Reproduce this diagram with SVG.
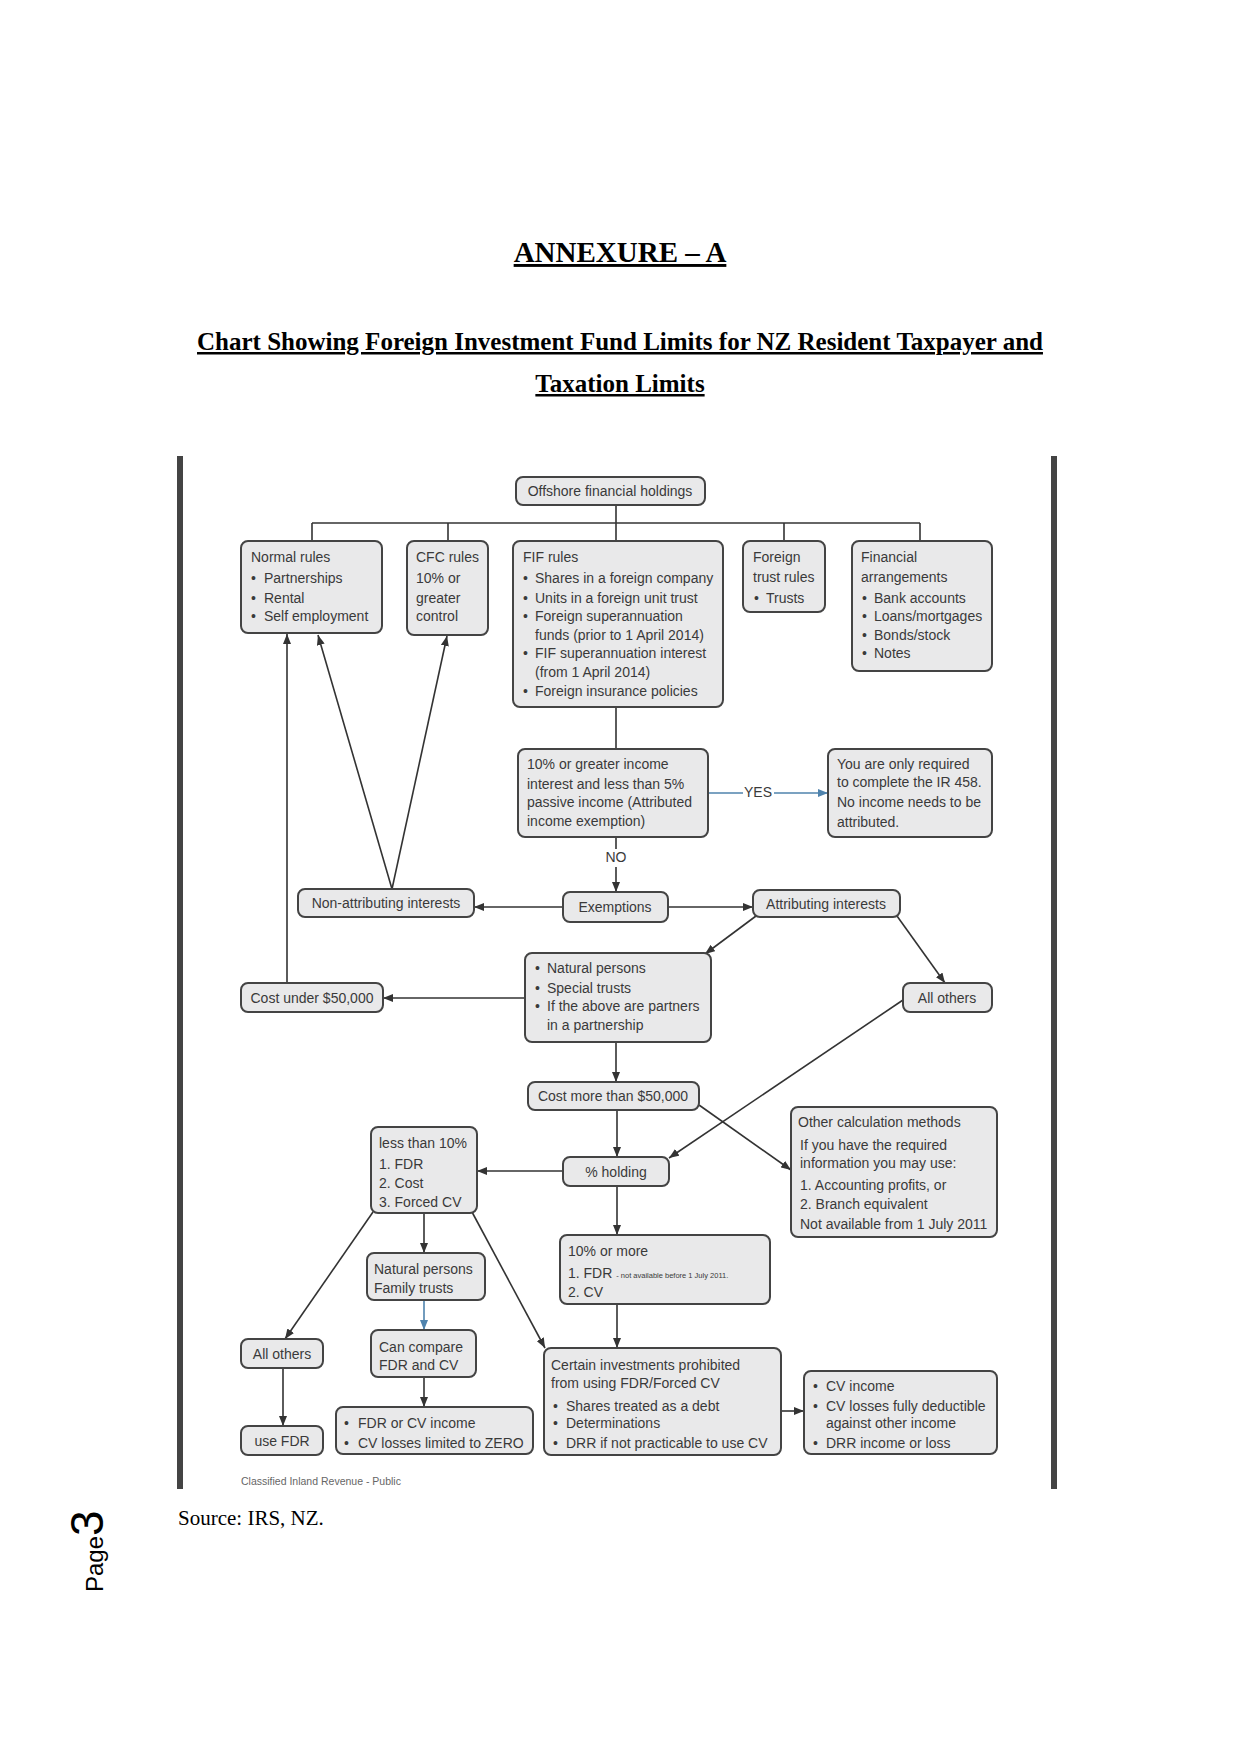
<svg xmlns="http://www.w3.org/2000/svg" width="1241" height="1754" viewBox="0 0 1241 1754">
<style>
.bx{fill:#e9e9ea;stroke:#444;stroke-width:2}
.t{font-family:"Liberation Sans",Arial,sans-serif;font-size:14px;fill:#3a3a3a}
.c{text-anchor:middle}
.ln{stroke:#333;stroke-width:1.6;fill:none}
.lb{stroke:#4f83ad;stroke-width:1.6;fill:none}
.a{marker-end:url(#ah)}
.ab{marker-end:url(#ahb)}
.ttl{font-family:"Liberation Serif","Times New Roman",serif;font-weight:bold;fill:#000;text-anchor:middle;text-decoration:underline}
</style>
<defs>
<marker id="ah" viewBox="0 0 10 8" refX="10" refY="4" markerWidth="10" markerHeight="8" markerUnits="userSpaceOnUse" orient="auto"><path d="M0,0 L10,4 L0,8 z" fill="#333"/></marker>
<marker id="ahb" viewBox="0 0 10 8" refX="10" refY="4" markerWidth="10" markerHeight="8" markerUnits="userSpaceOnUse" orient="auto"><path d="M0,0 L10,4 L0,8 z" fill="#4f83ad"/></marker>
</defs>
<rect width="1241" height="1754" fill="#fff"/>

<g id="titles">
<text class="ttl" x="620" y="262" font-size="29">ANNEXURE – A</text>
<text class="ttl" x="620" y="350" font-size="25">Chart Showing Foreign Investment Fund Limits for NZ Resident Taxpayer and</text>
<text class="ttl" x="620" y="392" font-size="25">Taxation Limits</text>
</g>

<g id="frame">
<rect x="177" y="456" width="6" height="1033" fill="#444"/>
<rect x="1051" y="456" width="6" height="1033" fill="#444"/>
</g>

<g id="connectors">
<line class="ln" x1="616" y1="505" x2="616" y2="541"/>
<line class="ln" x1="312" y1="523" x2="920" y2="523"/>
<line class="ln" x1="312" y1="523" x2="312" y2="541"/>
<line class="ln" x1="448" y1="523" x2="448" y2="541"/>
<line class="ln" x1="784" y1="523" x2="784" y2="541"/>
<line class="ln" x1="920" y1="523" x2="920" y2="541"/>
<line class="ln" x1="616" y1="707" x2="616" y2="749"/>
<line class="lb" x1="708" y1="793" x2="743" y2="793"/>
<text class="t c" x="758" y="797" font-size="12">YES</text>
<line class="lb ab" x1="774" y1="793" x2="828" y2="793"/>
<line class="ln" x1="616" y1="837" x2="616" y2="849"/>
<text class="t c" x="616" y="862" font-size="13">NO</text>
<line class="ln a" x1="616" y1="867" x2="616" y2="892"/>
<line class="ln a" x1="563" y1="907" x2="474" y2="907"/>
<line class="ln a" x1="668" y1="907" x2="753" y2="907"/>
<line class="ln a" x1="392" y1="889" x2="318" y2="635"/>
<line class="ln a" x1="392" y1="889" x2="447" y2="636"/>
<line class="ln a" x1="287" y1="983" x2="287" y2="634"/>
<line class="ln a" x1="525" y1="998" x2="383" y2="998"/>
<line class="ln a" x1="756" y1="916" x2="705" y2="954"/>
<line class="ln a" x1="897" y1="916" x2="945" y2="983"/>
<line class="ln a" x1="616" y1="1042" x2="616" y2="1082"/>
<line class="ln a" x1="617" y1="1110" x2="617" y2="1157"/>
<line class="ln a" x1="699" y1="1105" x2="791" y2="1170"/>
<line class="ln a" x1="903" y1="1000" x2="669" y2="1158"/>
<line class="ln a" x1="563" y1="1171" x2="477" y2="1171"/>
<line class="ln a" x1="617" y1="1186" x2="617" y2="1235"/>
<line class="ln a" x1="617" y1="1304" x2="617" y2="1348"/>
<line class="ln a" x1="781" y1="1411" x2="804" y2="1411"/>
<line class="ln a" x1="373" y1="1212" x2="285" y2="1339"/>
<line class="ln a" x1="424" y1="1213" x2="424" y2="1253"/>
<line class="lb ab" x1="424" y1="1300" x2="424" y2="1330"/>
<line class="ln a" x1="424" y1="1377" x2="424" y2="1407"/>
<line class="ln a" x1="472" y1="1212" x2="545" y2="1348"/>
<line class="ln a" x1="283" y1="1368" x2="283" y2="1426"/>
</g>

<g id="offshore"><rect class="bx" x="516" y="477" width="189" height="28" rx="7"/><text class="t c" x="610" y="496">Offshore financial holdings</text></g>

<g id="normal"><rect class="bx" x="241" y="541" width="141" height="92" rx="7"/>
<text class="t" x="251" y="562">Normal rules</text>
<text class="t" x="251" y="583">•</text><text class="t" x="264" y="583">Partnerships</text>
<text class="t" x="251" y="603">•</text><text class="t" x="264" y="603">Rental</text>
<text class="t" x="251" y="621">•</text><text class="t" x="264" y="621">Self employment</text></g>

<g id="cfc"><rect class="bx" x="407" y="541" width="81" height="94" rx="7"/>
<text class="t" x="416" y="562">CFC rules</text>
<text class="t" x="416" y="583">10% or</text>
<text class="t" x="416" y="603">greater</text>
<text class="t" x="416" y="621">control</text></g>

<g id="fif"><rect class="bx" x="513" y="541" width="210" height="166" rx="7"/>
<text class="t" x="523" y="562">FIF rules</text>
<text class="t" x="523" y="583">•</text><text class="t" x="535" y="583">Shares in a foreign company</text>
<text class="t" x="523" y="603">•</text><text class="t" x="535" y="603">Units in a foreign unit trust</text>
<text class="t" x="523" y="621">•</text><text class="t" x="535" y="621">Foreign superannuation</text>
<text class="t" x="535" y="640">funds (prior to 1 April 2014)</text>
<text class="t" x="523" y="658">•</text><text class="t" x="535" y="658">FIF superannuation interest</text>
<text class="t" x="535" y="677">(from 1 April 2014)</text>
<text class="t" x="523" y="696">•</text><text class="t" x="535" y="696">Foreign insurance policies</text></g>

<g id="foreigntrust"><rect class="bx" x="743" y="541" width="82" height="71" rx="7"/>
<text class="t" x="753" y="562">Foreign</text>
<text class="t" x="753" y="582">trust rules</text>
<text class="t" x="754" y="603">•</text><text class="t" x="766" y="603">Trusts</text></g>

<g id="financial"><rect class="bx" x="852" y="541" width="140" height="130" rx="7"/>
<text class="t" x="861" y="562">Financial</text>
<text class="t" x="861" y="582">arrangements</text>
<text class="t" x="862" y="603">•</text><text class="t" x="874" y="603">Bank accounts</text>
<text class="t" x="862" y="621">•</text><text class="t" x="874" y="621">Loans/mortgages</text>
<text class="t" x="862" y="640">•</text><text class="t" x="874" y="640">Bonds/stock</text>
<text class="t" x="862" y="658">•</text><text class="t" x="874" y="658">Notes</text></g>

<g id="tenpct"><rect class="bx" x="518" y="749" width="190" height="88" rx="7"/>
<text class="t" x="527" y="769">10% or greater income</text>
<text class="t" x="527" y="789">interest and less than 5%</text>
<text class="t" x="527" y="807">passive income (Attributed</text>
<text class="t" x="527" y="826">income exemption)</text></g>

<g id="onlyrequired"><rect class="bx" x="828" y="749" width="164" height="88" rx="7"/>
<text class="t" x="837" y="769">You are only required</text>
<text class="t" x="837" y="787">to complete the IR 458.</text>
<text class="t" x="837" y="807">No income needs to be</text>
<text class="t" x="837" y="827">attributed.</text></g>

<g id="nonattrib"><rect class="bx" x="298" y="889" width="176" height="28" rx="7"/><text class="t c" x="386" y="908">Non-attributing interests</text></g>

<g id="exemptions"><rect class="bx" x="563" y="892" width="105" height="30" rx="7"/><text class="t c" x="615" y="912">Exemptions</text></g>

<g id="attrib"><rect class="bx" x="753" y="890" width="147" height="27" rx="7"/><text class="t c" x="826" y="909">Attributing interests</text></g>

<g id="costunder"><rect class="bx" x="241" y="983" width="142" height="29" rx="7"/><text class="t c" x="312" y="1003">Cost under $50,000</text></g>

<g id="naturalpersons"><rect class="bx" x="525" y="953" width="186" height="89" rx="7"/>
<text class="t" x="535" y="973">•</text><text class="t" x="547" y="973">Natural persons</text>
<text class="t" x="535" y="993">•</text><text class="t" x="547" y="993">Special trusts</text>
<text class="t" x="535" y="1011">•</text><text class="t" x="547" y="1011">If the above are partners</text>
<text class="t" x="547" y="1030">in a partnership</text></g>

<g id="allothers1"><rect class="bx" x="903" y="983" width="89" height="29" rx="7"/><text class="t c" x="947" y="1003">All others</text></g>

<g id="costmore"><rect class="bx" x="528" y="1082" width="171" height="28" rx="7"/><text class="t c" x="613" y="1101">Cost more than $50,000</text></g>

<g id="othercalc"><rect class="bx" x="791" y="1107" width="206" height="130" rx="7"/>
<text class="t" x="798" y="1127">Other calculation methods</text>
<text class="t" x="800" y="1150">If you have the required</text>
<text class="t" x="800" y="1168">information you may use:</text>
<text class="t" x="800" y="1190">1. Accounting profits, or</text>
<text class="t" x="800" y="1209">2. Branch equivalent</text>
<text class="t" x="800" y="1229">Not available from 1 July 2011</text></g>

<g id="lessthan"><rect class="bx" x="371" y="1127" width="106" height="86" rx="7"/>
<text class="t" x="379" y="1148">less than 10%</text>
<text class="t" x="379" y="1169">1. FDR</text>
<text class="t" x="379" y="1188">2. Cost</text>
<text class="t" x="379" y="1207">3. Forced CV</text></g>

<g id="holding"><rect class="bx" x="563" y="1157" width="106" height="29" rx="7"/><text class="t c" x="616" y="1177">% holding</text></g>

<g id="tenormore"><rect class="bx" x="560" y="1235" width="210" height="69" rx="7"/>
<text class="t" x="568" y="1256">10% or more</text>
<text class="t" x="568" y="1278">1. FDR <tspan font-size="7.5">- not available before 1 July 2011.</tspan></text>
<text class="t" x="568" y="1297">2. CV</text></g>

<g id="familytrusts"><rect class="bx" x="367" y="1253" width="118" height="47" rx="7"/>
<text class="t" x="374" y="1274">Natural persons</text>
<text class="t" x="374" y="1293">Family trusts</text></g>

<g id="allothers2"><rect class="bx" x="241" y="1339" width="82" height="29" rx="7"/><text class="t c" x="282" y="1359">All others</text></g>

<g id="cancompare"><rect class="bx" x="371" y="1330" width="105" height="47" rx="7"/>
<text class="t" x="379" y="1352">Can compare</text>
<text class="t" x="379" y="1370">FDR and CV</text></g>

<g id="usefdr"><rect class="bx" x="241" y="1426" width="82" height="29" rx="7"/><text class="t c" x="282" y="1446">use FDR</text></g>

<g id="fdrorcv"><rect class="bx" x="336" y="1407" width="197" height="47" rx="7"/>
<text class="t" x="344" y="1428">•</text><text class="t" x="358" y="1428">FDR or CV income</text>
<text class="t" x="344" y="1448">•</text><text class="t" x="358" y="1448">CV losses limited to ZERO</text></g>

<g id="certain"><rect class="bx" x="544" y="1348" width="237" height="107" rx="7"/>
<text class="t" x="551" y="1370">Certain investments prohibited</text>
<text class="t" x="551" y="1388">from using FDR/Forced CV</text>
<text class="t" x="553" y="1411">•</text><text class="t" x="566" y="1411">Shares treated as a debt</text>
<text class="t" x="553" y="1428">•</text><text class="t" x="566" y="1428">Determinations</text>
<text class="t" x="553" y="1448">•</text><text class="t" x="566" y="1448">DRR if not practicable to use CV</text></g>

<g id="cvincome"><rect class="bx" x="804" y="1371" width="193" height="83" rx="7"/>
<text class="t" x="813" y="1391">•</text><text class="t" x="826" y="1391">CV income</text>
<text class="t" x="813" y="1411">•</text><text class="t" x="826" y="1411">CV losses fully deductible</text>
<text class="t" x="826" y="1428">against other income</text>
<text class="t" x="813" y="1448">•</text><text class="t" x="826" y="1448">DRR income or loss</text></g>

<g id="footer">
<text x="241" y="1485" font-family="Liberation Sans, Arial, sans-serif" font-size="10.5" fill="#666">Classified Inland Revenue - Public</text>
<text x="178" y="1525" font-family="Liberation Serif, Times New Roman, serif" font-size="21" fill="#000">Source: IRS, NZ.</text>
<text transform="translate(103,1592) rotate(-90)" font-family="Liberation Sans, Arial, sans-serif" font-size="24" fill="#000">Page<tspan font-size="46">3</tspan></text>
</g>
</svg>
